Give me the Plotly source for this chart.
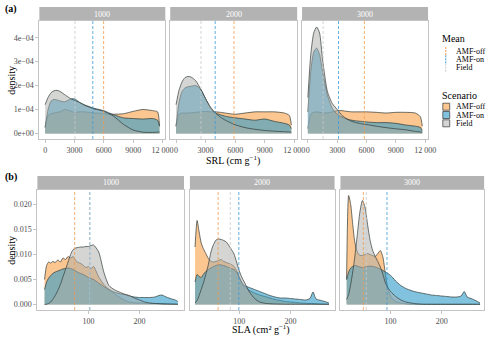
import plotly.graph_objects as go

# ---- data ----------------------------------------------------------------
panels = ['1000', '2000', '3000']
scenarios = ['AMF-off', 'AMF-on', 'Field']

# SRL densities (units of 1e-4)
srl_x = [0, 300, 600, 900, 1200, 1500, 2000, 2500, 3000, 3500, 4000, 4500,
         5000, 5500, 6000, 7000, 8000, 9000, 10000, 11000, 11500, 11700]
srl_off_1000 = [0.25, 0.75, 0.82, 0.85, 0.88, 0.9, 1.0, 0.95, 0.88, 0.9, 0.9, 0.88,
                0.85, 0.85, 0.82, 0.8, 0.82, 0.92, 1.0, 0.95, 0.9, 0.3]
srl_on_1000 = [0.25, 1.0, 1.35, 1.42, 1.4, 1.36, 1.32, 1.42, 1.45, 1.3, 1.2, 1.12,
               1.05, 1.0, 0.95, 0.78, 0.65, 0.62, 0.6, 0.62, 0.55, 0.3]
srl_field_1000 = [1.2, 1.5, 1.7, 1.78, 1.8, 1.76, 1.62, 1.48, 1.38, 1.3, 1.18, 1.1,
                  1.02, 0.98, 0.92, 0.72, 0.38, 0.14, 0.05, 0.04, 0.05, 0.06]
srl_off_2000 = [0.3, 0.8, 0.85, 0.85, 0.85, 0.86, 0.88, 0.9, 0.92, 0.9, 0.9, 0.88,
                0.85, 0.82, 0.8, 0.85, 0.9, 0.9, 0.9, 0.85, 0.75, 0.35]
srl_on_2000 = [0.3, 1.3, 1.75, 1.9, 1.95, 1.97, 2.0, 1.85, 1.45, 1.05, 0.85, 0.78,
               0.72, 0.68, 0.65, 0.6, 0.55, 0.6, 0.5, 0.42, 0.35, 0.2]
srl_field_2000 = [1.2, 1.8, 2.15, 2.33, 2.38, 2.36, 2.2, 1.85, 1.45, 1.1, 0.85, 0.68,
                  0.55, 0.45, 0.36, 0.24, 0.17, 0.12, 0.09, 0.07, 0.06, 0.05]
srl_off_3000 = [0.2, 0.8, 0.88, 0.9, 0.88, 0.86, 0.86, 0.9, 0.95, 0.95, 0.92, 0.9,
                0.9, 0.9, 0.9, 0.88, 0.85, 0.88, 0.88, 0.85, 0.7, 0.3]
srl_on_3000 = [0.9, 2.6, 3.4, 3.57, 3.3, 2.6, 1.6, 1.05, 0.8, 0.68, 0.6, 0.55,
               0.52, 0.5, 0.48, 0.45, 0.45, 0.42, 0.35, 0.3, 0.25, 0.12]
srl_field_3000 = [1.5, 3.3, 4.2, 4.45, 4.2, 3.1, 1.75, 1.25, 1.0, 0.75, 0.6, 0.5,
                  0.44, 0.4, 0.37, 0.3, 0.24, 0.19, 0.15, 0.08, 0.06, 0.05]

# SLA densities (units of 1e-3)
sla_x = [14, 18, 22, 26, 30, 35, 40, 45, 50, 55, 60, 65, 70, 75, 80, 85, 90, 95,
         100, 105, 110, 120, 130, 140, 150, 160, 170, 180, 190, 200, 210, 220,
         230, 238, 244, 250, 260, 270, 275]
sla_off_1000 = [5.0, 7.8, 8.5, 8.3, 8.6, 8.4, 8.9, 8.5, 9.3, 9.0, 9.6, 9.3, 9.6, 8.8,
                8.4, 8.2, 7.8, 7.4, 7.6, 7.2, 7.6, 5.5, 4.0, 3.0, 2.2, 1.5, 0.9, 0.5,
                0.35, 0.3, 0.25, 0.2, 0.2, 0.2, 0.2, 0.15, 0.1, 0.1, 0.05]
sla_on_1000 = [3.0, 4.5, 5.3, 5.8, 6.2, 6.5, 6.7, 6.9, 7.1, 7.2, 7.3, 7.2, 7.0, 6.7,
               6.4, 6.2, 6.0, 5.7, 5.4, 5.2, 5.0, 4.3, 3.6, 3.0, 2.5, 2.2, 2.0, 1.7,
               1.5, 1.4, 1.4, 1.4, 1.5, 1.8, 1.9, 1.6, 1.2, 0.9, 0.6]
sla_field_1000 = [0.0, 0.05, 0.2, 0.5, 1.0, 1.8, 2.8, 4.0, 5.5, 7.0, 8.5, 10.0, 11.0,
                  11.3, 11.4, 11.5, 11.5, 11.6, 11.6, 11.8, 11.9, 10.5, 6.5, 3.8,
                  3.0, 2.5, 2.1, 1.8, 1.3, 0.9, 0.5, 0.3, 0.2, 0.15, 0.1, 0.1, 0.08,
                  0.05, 0.05]
sla_off_2000 = [11.5, 16.8, 14.5, 12.3, 11.2, 10.2, 9.2, 8.6, 8.5, 8.6, 8.8, 9.0, 8.6,
                8.4, 8.2, 8.0, 7.6, 6.8, 5.5, 4.2, 3.5, 2.8, 2.3, 1.9, 1.6, 1.3, 1.0,
                0.8, 0.6, 0.5, 0.4, 0.3, 0.25, 0.2, 0.2, 0.15, 0.1, 0.05, 0.05]
sla_on_2000 = [4.5, 6.0, 5.6, 5.4, 6.0, 6.6, 7.0, 7.3, 7.6, 7.8, 8.0, 7.9, 7.8, 7.6,
               7.4, 7.2, 7.0, 6.5, 5.5, 4.5, 3.8, 3.4, 3.0, 2.6, 2.2, 1.8, 1.5, 1.3,
               1.3, 1.2, 1.1, 1.0, 0.9, 1.2, 2.5, 1.1, 0.8, 0.5, 0.3]
sla_field_2000 = [0.3, 0.8, 1.8, 3.0, 4.2, 6.0, 8.0, 10.5, 12.0, 12.9, 13.1, 13.0,
                  12.8, 12.5, 11.8, 11.0, 10.1, 8.5, 6.8, 5.5, 4.5, 2.5, 1.2, 0.5,
                  0.25, 0.15, 0.1, 0.08, 0.05, 0.05, 0.05, 0.05, 0.05, 0.05, 0.05,
                  0.05, 0.05, 0.05, 0.05]
sla_off_3000 = [5.0, 21.8, 20.0, 16.0, 12.5, 10.5, 9.8, 9.8, 10.0, 10.2, 10.0, 9.8,
                9.6, 10.2, 10.8, 9.5, 6.0, 3.0, 1.6, 1.0, 0.6, 0.3, 0.15, 0.1, 0.05,
                0.03, 0.03, 0.03, 0.03, 0.03, 0.03, 0.03, 0.03, 0.03, 0.03, 0.03,
                0.03, 0.03, 0.03]
sla_on_3000 = [5.0, 6.5, 7.3, 7.6, 7.8, 7.7, 7.5, 7.4, 7.5, 7.6, 7.7, 7.6, 7.5, 7.3,
               7.1, 6.8, 6.5, 6.2, 5.8, 5.3, 4.7, 3.8, 3.2, 2.8, 2.5, 2.3, 2.1, 1.9,
               1.8, 1.7, 1.6, 1.5, 1.5, 1.7, 2.6, 1.5, 1.1, 0.6, 0.3]
sla_field_3000 = [1.0, 2.0, 4.0, 6.5, 9.5, 14.0, 18.5, 20.8, 19.5, 16.0, 12.8, 10.8,
                  9.6, 8.6, 7.5, 6.0, 4.3, 3.3, 2.6, 2.1, 1.6, 0.9, 0.5, 0.3, 0.15,
                  0.08, 0.05, 0.05, 0.05, 0.05, 0.05, 0.05, 0.05, 0.05, 0.05, 0.05,
                  0.05, 0.05, 0.05]

# means per panel: [AMF-off, AMF-on, Field]
srl_mean_1000 = [5980, 4875, 3050]
srl_mean_2000 = [5880, 3970, 2530]
srl_mean_3000 = [5780, 3135, 1560]
sla_mean_1000 = [73, 102.5, 102.5]
sla_mean_2000 = [59, 99.4, 82.7]
sla_mean_3000 = [46.7, 93, 52.5]

srl_y = [[srl_off_1000, srl_on_1000, srl_field_1000],
         [srl_off_2000, srl_on_2000, srl_field_2000],
         [srl_off_3000, srl_on_3000, srl_field_3000]]
sla_y = [[sla_off_1000, sla_on_1000, sla_field_1000],
         [sla_off_2000, sla_on_2000, sla_field_2000],
         [sla_off_3000, sla_on_3000, sla_field_3000]]
srl_means = [srl_mean_1000, srl_mean_2000, srl_mean_3000]
sla_means = [sla_mean_1000, sla_mean_2000, sla_mean_3000]

# ---- style ---------------------------------------------------------------
W, H = 500, 339
FONT = 'Liberation Serif'
fills = ['rgba(250,152,55,0.55)', 'rgba(45,155,200,0.6)', 'rgba(172,174,170,0.5)']
mean_cols = ['#F39A4C', '#3A9AD6', '#C9C9C9']
border = '#C4C4C4'
strip_col = '#B3B3B3'


def px_x(p):
    return p / W


def px_y(p):
    return 1 - p / H


def note(x, y, text, size=8, color='black', xanchor='center', angle=0):
    return dict(xref='paper', yref='paper', showarrow=False,
                x=px_x(x), y=px_y(y), xanchor=xanchor, yanchor='middle',
                text=text, textangle=angle,
                font=dict(family=FONT, size=size, color=color))


top_dom = [[40, 168], [173, 302], [307, 435]]
bot_dom = [[38, 187], [193, 340], [346, 492]]
top_rows = [21, 139]
bot_rows = [190, 310]
sla_ranges = [[0, 287], [4, 286], [2, 283]]

fig = go.Figure()
layout = dict(
    width=W, height=H,
    margin=dict(l=0, r=0, t=0, b=0),
    paper_bgcolor='white', plot_bgcolor='white',
    showlegend=False,
    font=dict(family=FONT, color='#4D4D4D', size=8),
)
shapes = []
annotations = []

axis_common = dict(showgrid=False, zeroline=False, showline=True, mirror=True,
                   linecolor=border, linewidth=1, ticks='outside', ticklen=3,
                   tickcolor=border, tickfont=dict(family=FONT, size=8, color='#4D4D4D'))

for row in range(2):
    for i in range(3):
        k = row * 3 + i + 1
        xa = 'x' if k == 1 else 'x%d' % k
        ya = 'y' if k == 1 else 'y%d' % k
        if row == 0:
            dom = top_dom[i]
            rows = top_rows
            xs = srl_x
            ys = [[v * 1e-4 for v in s] for s in srl_y[i]]
            means = srl_means[i]
        else:
            dom = bot_dom[i]
            rows = bot_rows
            xs = sla_x
            ys = [[v * 1e-3 for v in s] for s in sla_y[i]]
            means = sla_means[i]

        for j in range(3):
            fig.add_trace(go.Scatter(
                x=xs, y=ys[j], mode='lines', fill='tozeroy',
                fillcolor=fills[j], line=dict(color='#2F3A36', width=0.7, shape='spline', smoothing=0.6),
                xaxis=xa, yaxis=ya, name=scenarios[j], hoverinfo='skip'))
            shapes.append(dict(type='line', xref=xa, yref=ya + ' domain',
                               x0=means[j], x1=means[j], y0=0, y1=1,
                               line=dict(color=mean_cols[j], width=0.8, dash='3px,2px')))

        xkey = 'xaxis' if k == 1 else 'xaxis%d' % k
        ykey = 'yaxis' if k == 1 else 'yaxis%d' % k
        xdict = dict(axis_common, domain=[px_x(dom[0]), px_x(dom[1])], anchor=ya)
        ydict = dict(axis_common, domain=[px_y(rows[1]), px_y(rows[0])], anchor=xa)
        if row == 0:
            xdict.update(range=[-590, 12290], tickvals=[0, 3000, 6000, 9000, 12000],
                         ticktext=['0', '3000', '6000', '9000', '12 000'])
            ydict.update(range=[-0.0000235, 0.00047],
                         tickvals=[0, 1e-4, 2e-4, 3e-4, 4e-4],
                         ticktext=['0e+00', '1e\u221204', '2e\u221204', '3e\u221204', '4e\u221204'])
        else:
            xdict.update(range=sla_ranges[i], tickvals=[100, 200])
            ydict.update(range=[-0.0011, 0.0229],
                         tickvals=[0, 0.005, 0.01, 0.015, 0.02],
                         ticktext=['0.000', '0.005', '0.010', '0.015', '0.020'])
        if i > 0:
            ydict.update(showticklabels=False, ticks='')
        layout[xkey] = xdict
        layout[ykey] = ydict

        # facet strip
        shapes.append(dict(type='rect', xref='paper', yref='paper', layer='below',
                           x0=px_x(dom[0]), x1=px_x(dom[1]),
                           y0=px_y(rows[0]), y1=px_y(rows[0] - 14),
                           fillcolor=strip_col, line=dict(width=0)))
        annotations.append(note((dom[0] + dom[1]) / 2, rows[0] - 7, panels[i], color='white'))

# axis titles and panel tags
annotations += [
    note(237, 160, 'SRL (cm g<sup>\u22121</sup>)', size=10),
    note(265, 329, 'SLA (cm\u00b2 g<sup>\u22121</sup>)', size=10),
    note(11, 80, 'density', size=10, angle=-90),
    note(11, 250, 'density', size=10, angle=-90),
    note(3, 9, '<b>(a)</b>', size=10, xanchor='left'),
    note(3, 177, '<b>(b)</b>', size=10, xanchor='left'),
    note(447, 39, 'Mean', size=10, xanchor='left'),
    note(447, 95, 'Scenario', size=10, xanchor='left'),
]

# legend entries
leg_y_mean = [51, 59.3, 67.7]
leg_y_scen = [106.7, 115, 123.3]
for j in range(3):
    shapes.append(dict(type='line', xref='paper', yref='paper',
                       x0=px_x(453), x1=px_x(453),
                       y0=px_y(leg_y_mean[j] - 4), y1=px_y(leg_y_mean[j] + 4),
                       line=dict(color=mean_cols[j], width=1, dash='2px,1px')))
    annotations.append(note(461, leg_y_mean[j], scenarios[j], xanchor='left'))
    shapes.append(dict(type='rect', xref='paper', yref='paper',
                       x0=px_x(450), x1=px_x(457),
                       y0=px_y(leg_y_scen[j] - 3.5), y1=px_y(leg_y_scen[j] + 3.5),
                       fillcolor=fills[j], line=dict(color='#333333', width=0.7)))
    annotations.append(note(461, leg_y_scen[j], scenarios[j], xanchor='left'))

layout['shapes'] = shapes
layout['annotations'] = annotations
fig.update_layout(**layout)
fig.write_html("out.html", config={'displayModeBar': False},
               post_script="document.body.style.margin='0';")
